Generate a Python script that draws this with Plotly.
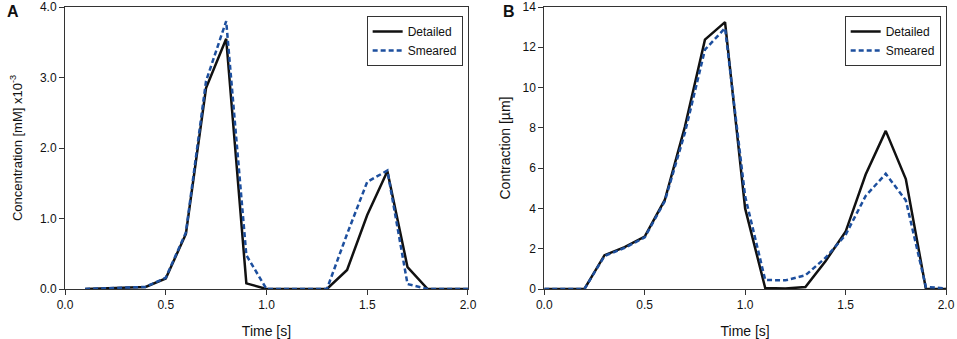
import plotly.graph_objects as go
from plotly.subplots import make_subplots

time_a = [0.1, 0.2, 0.3, 0.4, 0.5, 0.6, 0.7, 0.8, 0.9, 1.0, 1.1, 1.2, 1.3, 1.4, 1.5, 1.6, 1.7, 1.8, 1.9, 2.0]
conc_detailed = [0, 0.01, 0.02, 0.03, 0.15, 0.78, 2.85, 3.55, 0.08, 0, 0, 0, 0, 0.27, 1.05, 1.67, 0.31, 0, 0, 0]
conc_smeared = [0, 0.01, 0.02, 0.03, 0.16, 0.80, 2.95, 3.80, 0.48, 0, 0, 0, 0, 0.78, 1.52, 1.68, 0.07, 0, 0, 0]

time_b = [0.0, 0.1, 0.2, 0.3, 0.4, 0.5, 0.6, 0.7, 0.8, 0.9, 1.0, 1.1, 1.2, 1.3, 1.4, 1.5, 1.6, 1.7, 1.8, 1.9, 2.0]
contr_detailed = [0, 0, 0, 1.68, 2.08, 2.6, 4.42, 8.05, 12.38, 13.25, 4.0, 0.05, 0.02, 0.1, 1.38, 2.84, 5.68, 7.85, 5.46, 0, 0]
contr_smeared = [0, 0, 0, 1.64, 2.04, 2.56, 4.36, 7.75, 11.88, 12.95, 4.6, 0.45, 0.43, 0.68, 1.55, 2.68, 4.62, 5.72, 4.4, 0.1, 0.03]

series_names = ["Detailed", "Smeared"]
x_ticks = [0.0, 0.5, 1.0, 1.5, 2.0]
ya_ticks = [0.0, 1.0, 2.0, 3.0, 4.0]
yb_ticks = [0, 2, 4, 6, 8, 10, 12, 14]

BLACK = "#111111"
BLUE = "#1d4f9e"
FONT = "Liberation Sans, Arial, sans-serif"
TXT = "#111111"

fig = make_subplots(rows=1, cols=2)

fig.add_trace(go.Scatter(x=time_a, y=conc_detailed, mode="lines", name=series_names[0],
                         line=dict(color=BLACK, width=2.5), legend="legend"), row=1, col=1)
fig.add_trace(go.Scatter(x=time_a, y=conc_smeared, mode="lines", name=series_names[1],
                         line=dict(color=BLUE, width=2.5, dash="5px,3px"), legend="legend"), row=1, col=1)
fig.add_trace(go.Scatter(x=time_b, y=contr_detailed, mode="lines", name=series_names[0],
                         line=dict(color=BLACK, width=2.5), legend="legend2"), row=1, col=2)
fig.add_trace(go.Scatter(x=time_b, y=contr_smeared, mode="lines", name=series_names[1],
                         line=dict(color=BLUE, width=2.5, dash="5px,3px"), legend="legend2"), row=1, col=2)

axis_common = dict(showline=True, mirror=True, linecolor="#333333", linewidth=1,
                   ticks="outside", ticklen=5, tickcolor="#333333", showgrid=False, zeroline=False,
                   automargin=False, ticklabeloverflow="allow",
                   tickfont=dict(family=FONT, size=12, color=TXT))

xtitle = dict(text="Time [s]", font=dict(family=FONT, size=14, color=TXT), standoff=16)

fig.update_xaxes(range=[0, 2], tickvals=x_ticks, tickformat=".1f", domain=[0.0, 0.4574],
                 title=xtitle, **axis_common, row=1, col=1)
fig.update_xaxes(range=[0, 2], tickvals=x_ticks, tickformat=".1f", domain=[0.544, 1.0],
                 title=xtitle, **axis_common, row=1, col=2)
fig.update_yaxes(range=[0, 4], tickvals=ya_ticks, tickformat=".1f", domain=[0, 1],
                 title=dict(text="Concentration [mM] x10<sup>-3</sup>", font=dict(family=FONT, size=13, color=TXT), standoff=14),
                 **axis_common, row=1, col=1)
fig.update_yaxes(range=[0, 14], tickvals=yb_ticks, domain=[0, 1],
                 title=dict(text="Contraction [µm]", font=dict(family=FONT, size=14, color=TXT), standoff=8),
                 **axis_common, row=1, col=2)

legend_common = dict(bgcolor="white", bordercolor="#333333", borderwidth=1,
                     font=dict(family=FONT, size=12, color=TXT),
                     xanchor="left", yanchor="top", tracegroupgap=0, itemwidth=30)

fig.update_layout(
    width=957, height=339,
    margin=dict(l=65, r=11, t=7, b=50, autoexpand=False),
    paper_bgcolor="white", plot_bgcolor="white",
    showlegend=True,
    legend=dict(x=0.3424, y=0.968, **legend_common),
    legend2=dict(x=0.885, y=0.968, **legend_common),
    annotations=[
        dict(text="<b>A</b>", x=-0.068, y=1.02, xref="paper", yref="paper", xanchor="left", yanchor="top",
             showarrow=False, font=dict(family=FONT, size=16, color=TXT)),
        dict(text="<b>B</b>", x=0.495, y=1.02, xref="paper", yref="paper", xanchor="left", yanchor="top",
             showarrow=False, font=dict(family=FONT, size=16, color=TXT)),
    ],
)

fig.write_html("out.html", config={"displayModeBar": False},
               post_script="document.body.style.margin='0px';document.body.style.padding='0px';")
